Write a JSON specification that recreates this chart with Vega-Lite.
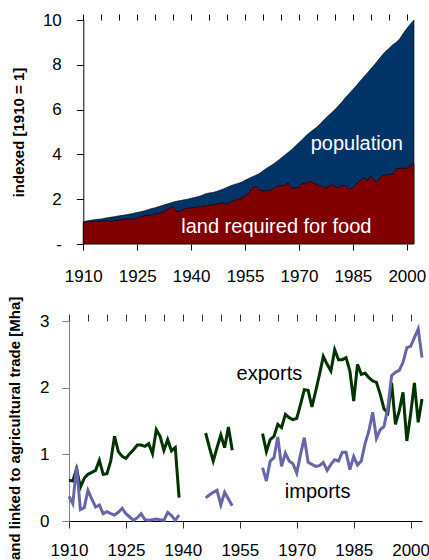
{
  "$schema": "https://vega.github.io/schema/vega-lite/v6.json",
  "padding": {"left": 7, "top": 11, "right": 0, "bottom": 0},
  "background": "white",
  "spacing": 12,
  "config": {
    "view": {"stroke": null},
    "font": "Liberation Sans",
    "axis": {
      "labelFont": "Liberation Sans",
      "labelFontSize": 17,
      "labelColor": "#000000",
      "titleFont": "Liberation Sans",
      "titleFontSize": 15,
      "titleFontWeight": "bold",
      "titleColor": "#000000",
      "grid": false,
      "domainColor": "#000000",
      "tickColor": "#000000",
      "labelOverlap": false,
      "labelFlush": false
    }
  },
  "datasets": {
    "top": [
      {"year":1910,"population":1.00,"land":0.95},{"year":1911,"population":1.03,"land":0.98},{"year":1912,"population":1.06,"land":1.00},{"year":1913,"population":1.08,"land":1.00},{"year":1914,"population":1.10,"land":1.01},
      {"year":1915,"population":1.12,"land":1.02},{"year":1916,"population":1.15,"land":1.03},{"year":1917,"population":1.18,"land":1.04},{"year":1918,"population":1.20,"land":1.02},{"year":1919,"population":1.23,"land":1.05},
      {"year":1920,"population":1.26,"land":1.07},{"year":1921,"population":1.28,"land":1.10},{"year":1922,"population":1.31,"land":1.11},{"year":1923,"population":1.34,"land":1.12},{"year":1924,"population":1.37,"land":1.10},
      {"year":1925,"population":1.41,"land":1.16},{"year":1926,"population":1.44,"land":1.22},{"year":1927,"population":1.48,"land":1.26},{"year":1928,"population":1.53,"land":1.30},{"year":1929,"population":1.58,"land":1.28},
      {"year":1930,"population":1.62,"land":1.33},{"year":1931,"population":1.67,"land":1.36},{"year":1932,"population":1.72,"land":1.42},{"year":1933,"population":1.77,"land":1.50},{"year":1934,"population":1.82,"land":1.60},
      {"year":1935,"population":1.87,"land":1.67},{"year":1936,"population":1.91,"land":1.45},{"year":1937,"population":1.94,"land":1.48},{"year":1938,"population":1.97,"land":1.57},{"year":1939,"population":2.00,"land":1.60},
      {"year":1940,"population":2.04,"land":1.62},{"year":1941,"population":2.08,"land":1.64},{"year":1942,"population":2.12,"land":1.66},{"year":1943,"population":2.17,"land":1.68},{"year":1944,"population":2.24,"land":1.70},
      {"year":1945,"population":2.28,"land":1.72},{"year":1946,"population":2.30,"land":1.75},{"year":1947,"population":2.34,"land":1.78},{"year":1948,"population":2.40,"land":1.80},{"year":1949,"population":2.46,"land":1.85},
      {"year":1950,"population":2.53,"land":1.76},{"year":1951,"population":2.60,"land":1.88},{"year":1952,"population":2.66,"land":1.94},{"year":1953,"population":2.70,"land":2.00},{"year":1954,"population":2.76,"land":2.06},
      {"year":1955,"population":2.85,"land":2.14},{"year":1956,"population":2.92,"land":2.25},{"year":1957,"population":3.00,"land":2.50},{"year":1958,"population":3.07,"land":2.57},{"year":1959,"population":3.15,"land":2.42},
      {"year":1960,"population":3.27,"land":2.38},{"year":1961,"population":3.38,"land":2.38},{"year":1962,"population":3.48,"land":2.40},{"year":1963,"population":3.58,"land":2.48},{"year":1964,"population":3.70,"land":2.58},
      {"year":1965,"population":3.83,"land":2.60},{"year":1966,"population":3.96,"land":2.62},{"year":1967,"population":4.09,"land":2.72},{"year":1968,"population":4.22,"land":2.50},{"year":1969,"population":4.37,"land":2.50},
      {"year":1970,"population":4.53,"land":2.55},{"year":1971,"population":4.68,"land":2.70},{"year":1972,"population":4.84,"land":2.72},{"year":1973,"population":4.98,"land":2.80},{"year":1974,"population":5.10,"land":2.72},
      {"year":1975,"population":5.22,"land":2.65},{"year":1976,"population":5.38,"land":2.60},{"year":1977,"population":5.55,"land":2.50},{"year":1978,"population":5.70,"land":2.55},{"year":1979,"population":5.85,"land":2.65},
      {"year":1980,"population":6.00,"land":2.58},{"year":1981,"population":6.17,"land":2.50},{"year":1982,"population":6.35,"land":2.62},{"year":1983,"population":6.55,"land":2.60},{"year":1984,"population":6.72,"land":2.45},
      {"year":1985,"population":6.90,"land":2.50},{"year":1986,"population":7.08,"land":2.70},{"year":1987,"population":7.27,"land":2.82},{"year":1988,"population":7.45,"land":2.95},{"year":1989,"population":7.63,"land":2.85},
      {"year":1990,"population":7.82,"land":3.05},{"year":1991,"population":8.00,"land":2.80},{"year":1992,"population":8.20,"land":2.82},{"year":1993,"population":8.40,"land":3.05},{"year":1994,"population":8.58,"land":3.08},
      {"year":1995,"population":8.73,"land":3.10},{"year":1996,"population":8.88,"land":3.12},{"year":1997,"population":9.00,"land":3.35},{"year":1998,"population":9.15,"land":3.38},{"year":1999,"population":9.40,"land":3.38},
      {"year":2000,"population":9.62,"land":3.38},{"year":2001,"population":9.82,"land":3.48},{"year":2002,"population":10.00,"land":3.60}
    ],
    "trade": [
      {"year":1910,"seg":1,"exports":0.61,"imports":0.37},{"year":1911,"seg":1,"exports":0.60,"imports":0.26},{"year":1912,"seg":1,"exports":0.78,"imports":0.82},{"year":1913,"seg":1,"exports":0.51,"imports":0.17},{"year":1914,"seg":1,"exports":0.64,"imports":0.20},
      {"year":1915,"seg":1,"exports":0.70,"imports":0.46},{"year":1916,"seg":1,"exports":0.73,"imports":0.33},{"year":1917,"seg":1,"exports":0.76,"imports":0.21},{"year":1918,"seg":1,"exports":0.91,"imports":0.24},{"year":1919,"seg":1,"exports":0.70,"imports":0.11},
      {"year":1920,"seg":1,"exports":0.71,"imports":0.14},{"year":1921,"seg":1,"exports":0.90,"imports":0.11},{"year":1922,"seg":1,"exports":1.27,"imports":0.09},{"year":1923,"seg":1,"exports":1.04,"imports":0.13},{"year":1924,"seg":1,"exports":0.97,"imports":0.19},
      {"year":1925,"seg":1,"exports":0.94,"imports":0.11},{"year":1926,"seg":1,"exports":1.01,"imports":0.06},{"year":1927,"seg":1,"exports":1.07,"imports":0.01},{"year":1928,"seg":1,"exports":1.14,"imports":0.05},{"year":1929,"seg":1,"exports":1.14,"imports":0.11},
      {"year":1930,"seg":1,"exports":1.12,"imports":0.02},{"year":1931,"seg":1,"exports":1.16,"imports":0.01},{"year":1932,"seg":1,"exports":1.01,"imports":0.02},{"year":1933,"seg":1,"exports":1.37,"imports":0.03},{"year":1934,"seg":1,"exports":1.27,"imports":0.02},
      {"year":1935,"seg":1,"exports":1.06,"imports":0.01},{"year":1936,"seg":1,"exports":1.22,"imports":0.13},{"year":1937,"seg":1,"exports":1.05,"imports":0.08},{"year":1938,"seg":1,"exports":1.10,"imports":0.01},{"year":1939,"seg":1,"exports":0.35,"imports":0.09},
      {"year":1946,"seg":2,"exports":1.32,"imports":0.35},{"year":1947,"seg":2,"exports":1.10,"imports":0.39},{"year":1948,"seg":2,"exports":0.90,"imports":0.43},{"year":1949,"seg":2,"exports":1.10,"imports":0.46},{"year":1950,"seg":2,"exports":1.29,"imports":0.24},
      {"year":1951,"seg":2,"exports":1.10,"imports":0.43},{"year":1952,"seg":2,"exports":1.41,"imports":0.33},{"year":1953,"seg":2,"exports":1.06,"imports":0.23},
      {"year":1961,"seg":3,"exports":1.31,"imports":0.80},{"year":1962,"seg":3,"exports":1.04,"imports":0.60},{"year":1963,"seg":3,"exports":1.22,"imports":0.90},{"year":1964,"seg":3,"exports":1.27,"imports":0.95},{"year":1965,"seg":3,"exports":1.45,"imports":1.26},
      {"year":1966,"seg":3,"exports":1.40,"imports":0.82},{"year":1967,"seg":3,"exports":1.60,"imports":1.02},{"year":1968,"seg":3,"exports":1.55,"imports":0.90},{"year":1969,"seg":3,"exports":1.52,"imports":0.86},{"year":1970,"seg":3,"exports":1.54,"imports":0.72},
      {"year":1971,"seg":3,"exports":1.75,"imports":1.00},{"year":1972,"seg":3,"exports":1.97,"imports":1.25},{"year":1973,"seg":3,"exports":1.96,"imports":0.88},{"year":1974,"seg":3,"exports":1.71,"imports":0.85},{"year":1975,"seg":3,"exports":1.95,"imports":0.82},
      {"year":1976,"seg":3,"exports":2.20,"imports":0.83},{"year":1977,"seg":3,"exports":2.47,"imports":0.88},{"year":1978,"seg":3,"exports":2.35,"imports":0.76},{"year":1979,"seg":3,"exports":2.25,"imports":0.85},{"year":1980,"seg":3,"exports":2.57,"imports":0.92},
      {"year":1981,"seg":3,"exports":2.42,"imports":0.90},{"year":1982,"seg":3,"exports":2.42,"imports":1.03},{"year":1983,"seg":3,"exports":2.45,"imports":1.03},{"year":1984,"seg":3,"exports":2.25,"imports":0.77},{"year":1985,"seg":3,"exports":1.80,"imports":0.97},
      {"year":1986,"seg":3,"exports":2.35,"imports":0.84},{"year":1987,"seg":3,"exports":2.20,"imports":0.90},{"year":1988,"seg":3,"exports":2.22,"imports":1.16},{"year":1989,"seg":3,"exports":2.15,"imports":1.35},{"year":1990,"seg":3,"exports":2.10,"imports":1.63},
      {"year":1991,"seg":3,"exports":2.08,"imports":1.24},{"year":1992,"seg":3,"exports":1.90,"imports":1.37},{"year":1993,"seg":3,"exports":1.68,"imports":1.42},{"year":1994,"seg":3,"exports":1.62,"imports":1.70},{"year":1995,"seg":3,"exports":2.07,"imports":2.18},
      {"year":1996,"seg":3,"exports":1.45,"imports":2.23},{"year":1997,"seg":3,"exports":1.65,"imports":2.26},{"year":1998,"seg":3,"exports":1.93,"imports":2.38},{"year":1999,"seg":3,"exports":1.20,"imports":2.60},{"year":2000,"seg":3,"exports":1.60,"imports":2.62},
      {"year":2001,"seg":3,"exports":2.07,"imports":2.75},{"year":2002,"seg":3,"exports":1.48,"imports":2.88},{"year":2003,"seg":3,"exports":1.83,"imports":2.45}
    ],
    "toplabels": [
      {"label":"population","year":1986.1,"value":4.2},
      {"label":"land required for food","year":1963.7,"value":0.5}
    ],
    "bottomlabels": [
      {"label":"exports","year":1962.8,"value":2.11},
      {"label":"imports","year":1975.5,"value":0.35}
    ]
  },
  "vconcat": [
    {
      "width": 345,
      "height": 224,
      "resolve": {"axis": {"x": "independent"}},
      "layer": [
        {
          "data": {"name": "top"},
          "mark": {"type": "area", "color": "#003366", "stroke": "#000000", "strokeWidth": 0.6},
          "encoding": {
            "x": {"field": "year", "type": "quantitative", "scale": {"domain": [1906.03, 2002], "nice": false, "zero": false},
              "axis": {"title": null, "values": [1910,1925,1940,1955,1970,1985,2000], "format": "d", "domain": false, "tickSize": 6, "labelPadding": 18}},
            "y": {"field": "population", "type": "quantitative", "scale": {"domain": [0, 10], "nice": false},
              "axis": {"title": "indexed [1910 = 1]", "values": [0,2,4,6,8,10], "labelExpr": "datum.value == 0 ? '-' : datum.label",
                "tickSize": 7, "labelPadding": 15, "titlePadding": 16, "offset": -14.3}}
          }
        },
        {
          "data": {"name": "top"},
          "mark": {"type": "area", "color": "#800000", "stroke": "#000000", "strokeWidth": 0.6},
          "encoding": {
            "x": {"field": "year", "type": "quantitative",
              "axis": {"title": null, "values": [1910,1915,1920,1925,1930,1935,1940,1945,1950,1955,1960,1965,1970,1975,1980,1985,1990,1995,2000], "labels": false, "domain": false, "tickSize": 6}},
            "y": {"field": "land", "type": "quantitative"}
          }
        },
        {
          "mark": {"type": "rule", "color": "#000000", "strokeWidth": 1},
          "encoding": {
            "x": {"datum": 1910, "type": "quantitative", "axis": null},
            "x2": {"datum": 2002.5},
            "y": {"datum": 0, "type": "quantitative"}
          }
        },
        {
          "data": {"name": "toplabels"},
          "mark": {"type": "text", "color": "#ffffff", "fontSize": 20, "font": "Liberation Sans", "align": "center", "baseline": "alphabetic"},
          "encoding": {
            "x": {"field": "year", "type": "quantitative", "axis": null},
            "y": {"field": "value", "type": "quantitative"},
            "text": {"field": "label"}
          }
        }
      ]
    },
    {
      "width": 353,
      "height": 200,
      "resolve": {"axis": {"x": "independent"}},
      "layer": [
        {
          "data": {"name": "trade"},
          "transform": [{"fold": ["exports", "imports"], "as": ["series", "value"]}],
          "mark": {"type": "line", "strokeWidth": 3},
          "encoding": {
            "x": {"field": "year", "type": "quantitative", "scale": {"domain": [1910, 2003], "nice": false, "zero": false},
              "axis": {"title": null, "values": [1910,1925,1940,1955,1970,1985,2000], "format": "d", "tickSize": 7, "labelPadding": 14, "tickColor": "#333333"}},
            "y": {"field": "value", "type": "quantitative", "scale": {"domain": [0, 3], "nice": false},
              "axis": {"title": "land linked to agricultural trade [Mha]", "values": [0,1,2,3], "format": "d", "tickSize": 7, "labelPadding": 13,
                "domainColor": "#808080", "tickColor": "#808080", "titlePadding": 17, "titleY": 109}},
            "color": {"field": "series", "type": "nominal", "scale": {"domain": ["exports", "imports"], "range": ["#003300", "#6666a8"]}, "legend": null},
            "detail": {"field": "seg", "type": "nominal"}
          }
        },
        {
          "data": {"name": "bottomlabels"},
          "mark": {"type": "text", "color": "#000000", "fontSize": 20, "font": "Liberation Sans", "align": "center", "baseline": "alphabetic"},
          "encoding": {
            "x": {"field": "year", "type": "quantitative",
              "axis": {"title": null, "values": [1910,1915,1920,1925,1930,1935,1940,1945,1950,1955,1960,1965,1970,1975,1980,1985,1990,1995,2000], "labels": false, "domain": false, "tickSize": 7, "tickColor": "#333333"}},
            "y": {"field": "value", "type": "quantitative"},
            "text": {"field": "label"}
          }
        }
      ]
    }
  ]
}
